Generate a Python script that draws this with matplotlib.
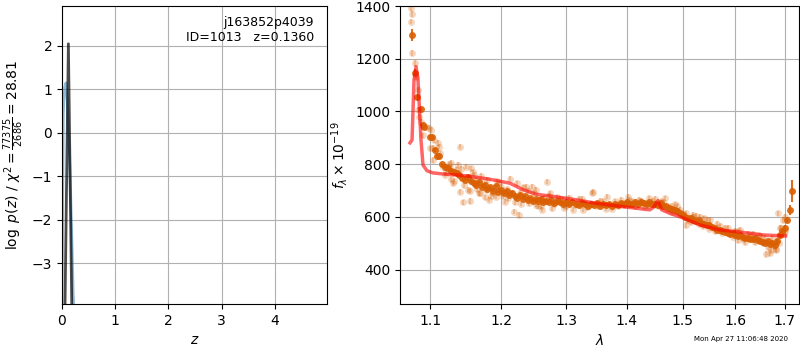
import numpy as np
import matplotlib
matplotlib.use('Agg')
import matplotlib.pyplot as plt

# ──────────────────────────────────────────────
# DATA
# ──────────────────────────────────────────────
# p(z) panel
z_fit   = [0.0, 0.025, 0.05, 0.075, 0.10, 0.12, 0.15, 0.18, 0.21, 0.24]
lnp_fit = [-4.2, 0.45, 1.05, 1.15, 0.75, 0.08, -0.85, -2.2, -3.7, -4.6]

z_peak   = [0.05, 0.12, 0.19]
lnp_peak = [-4.6, 2.05, -4.6]

obj_name = 'j163852p4039'
obj_id = 1013
z_best = 0.1360
chi2_num, chi2_den, chi2_red = 77375, 2686, 28.81

# binned spectrum
wave_bin = [1.0760, 1.0795, 1.0826, 1.0871, 1.0906, 1.0917, 1.0994, 1.1018, 1.1063, 1.1095,
            1.1121, 1.116, 1.120, 1.124, 1.128, 1.132, 1.136, 1.140, 1.144, 1.148,
            1.152, 1.156, 1.160, 1.164, 1.168, 1.172, 1.176, 1.180, 1.184, 1.188,
            1.192, 1.196, 1.200, 1.204, 1.208, 1.212, 1.216, 1.220, 1.224, 1.228,
            1.232, 1.236, 1.240, 1.244, 1.248, 1.252, 1.256, 1.260, 1.264, 1.268,
            1.272, 1.276, 1.280, 1.285, 1.290, 1.295, 1.300, 1.305, 1.310, 1.315,
            1.320, 1.325, 1.330, 1.335, 1.340, 1.345, 1.350, 1.355, 1.360, 1.365,
            1.370, 1.375, 1.380, 1.385, 1.390, 1.395, 1.400, 1.405, 1.410, 1.415,
            1.420, 1.425, 1.430, 1.435, 1.440, 1.445, 1.450, 1.455, 1.460, 1.465,
            1.470, 1.475, 1.480, 1.485, 1.490, 1.495, 1.500, 1.505, 1.510, 1.515,
            1.520, 1.525, 1.530, 1.535, 1.540, 1.545, 1.550, 1.555, 1.560, 1.565,
            1.570, 1.575, 1.580, 1.585, 1.590, 1.595, 1.600, 1.605, 1.610, 1.615,
            1.620, 1.625, 1.630, 1.635, 1.640, 1.645, 1.650, 1.655, 1.660, 1.665,
            1.670, 1.675, 1.680, 1.685, 1.690, 1.695, 1.700, 1.7054, 1.7111, 1.7159]
flux_bin = [1290, 1147, 1054, 1008, 949, 940, 905, 905, 854, 832,
            832, 800, 790, 785, 775, 770, 765, 760, 748, 740,
            752, 735, 728, 720, 732, 715, 722, 705, 712, 700,
            718, 695, 702, 690, 698, 685, 692, 680, 672, 685,
            670, 678, 665, 672, 660, 668, 662, 670, 655, 662,
            658, 665, 652, 660, 655, 650, 658, 648, 655, 650,
            645, 652, 648, 642, 650, 645, 652, 640, 648, 645,
            650, 642, 648, 645, 652, 648, 655, 650, 648, 655,
            650, 658, 652, 648, 655, 650, 648, 645, 652, 640,
            642, 635, 630, 625, 622, 615, 608, 600, 595, 598,
            590, 585, 588, 578, 575, 570, 568, 562, 558, 552,
            550, 545, 542, 540, 535, 538, 530, 528, 532, 525,
            520, 522, 518, 515, 520, 512, 510, 505, 500, 508,
            498, 502, 495, 510, 530, 545, 560, 589, 626, 699]
err_bin = [22, 14, 10, 8, 7, 7, 6, 6, 6, 5,
           5, 5, 5, 5, 5, 5, 5, 5, 5, 5,
           5, 5, 5, 5, 5, 5, 5, 5, 5, 5,
           5, 5, 5, 5, 5, 5, 5, 5, 5, 5,
           5, 5, 5, 5, 5, 5, 5, 5, 5, 5,
           5, 5, 5, 5, 5, 5, 5, 5, 5, 5,
           5, 5, 5, 5, 5, 5, 5, 5, 5, 5,
           5, 5, 5, 5, 5, 5, 5, 5, 5, 5,
           5, 5, 5, 5, 5, 5, 5, 5, 5, 5,
           5, 5, 5, 5, 5, 5, 5, 5, 5, 5,
           5, 5, 5, 5, 5, 5, 5, 5, 5, 5,
           5, 5, 5, 5, 5, 5, 5, 5, 5, 5,
           5, 5, 5, 5, 5, 5, 5, 5, 5, 5,
           6, 6, 6, 7, 8, 9, 10, 12, 20, 42]

# individual pixels (faint)
wave_pix = [1.0745, 1.0752, 1.0740, 1.0760, 1.0795, 1.0805, 1.0835, 1.0835, 1.0855, 1.0878,
            1.0943, 1.0985, 1.1005, 1.1050, 1.1105, 1.1115, 1.1030, 1.1408, 1.1131, 1.1040,
            1.1176, 1.1267, 1.1381, 1.1495, 1.1565, 1.1290, 1.1313, 1.1405, 1.1450, 1.1555,
            1.1518, 1.1680, 1.1775, 1.1823, 1.1919, 1.2065, 1.2190, 1.2265, 1.2164, 1.2367,
            1.2470, 1.2522, 1.1632, 1.1727, 1.1968, 1.2240, 1.2690, 1.2470, 1.2522, 1.2625,
            1.2782, 1.2942, 1.3106, 1.3272, 1.3414, 1.3500, 1.3672, 1.3848, 1.4027, 1.4210,
            1.4396, 1.4682, 1.4780, 1.3436, 1.5068, 1.5068, 1.5191, 1.5316, 1.5506, 1.5379,
            1.5697, 1.5890, 1.6087, 1.6053, 1.6286, 1.6420, 1.6622, 1.6553, 1.6724, 1.6828,
            1.6703, 1.6895, 1.6959, 1.6860, 1.7000, 1.2850, 1.3000, 1.3200, 1.3600, 1.3750,
            1.3900, 1.4100, 1.4300, 1.4500, 1.4600, 1.4850, 1.4950, 1.5150, 1.5250, 1.5450,
            1.5600, 1.5800, 1.6000, 1.6200, 1.6350, 1.6480, 1.6600, 1.6780, 1.6900, 1.1850,
            1.2000, 1.2100, 1.2300, 1.2400, 1.2600, 1.2750, 1.1550, 1.1600, 1.1700, 1.1350,
            1.1250, 1.1200, 1.1000, 1.0900,
            1.1220, 1.1280, 1.1330, 1.1430, 1.1470, 1.1530, 1.1590, 1.1650, 1.1710, 1.1760,
            1.1800, 1.1880, 1.1940, 1.2030, 1.2090, 1.2130, 1.2200, 1.2280, 1.2330, 1.2420,
            1.2500, 1.2560, 1.2650, 1.2720, 1.2800, 1.2900, 1.2970, 1.3050, 1.3150, 1.3250,
            1.3330, 1.3550, 1.3650, 1.3800, 1.3950, 1.4050, 1.4150, 1.4250, 1.4350, 1.4450,
            1.4550, 1.4650, 1.4720, 1.4800, 1.4900, 1.5000, 1.5100, 1.5200, 1.5300, 1.5400,
            1.5500, 1.5650, 1.5750, 1.5850, 1.5950, 1.6050, 1.6150, 1.6250, 1.6400, 1.6520,
            1.6650, 1.6750, 1.6830, 1.6880, 1.6930, 1.6980, 1.7010]
flux_pix = [1392, 1370, 1340, 1222, 1184, 1131, 1082, 1006, 979, 960,
            941, 938, 930, 892, 881, 866, 862, 866, 842, 816,
            791, 785, 797, 791, 785, 743, 728, 696, 655, 661,
            703, 690, 703, 665, 677, 658, 620, 608, 690, 715,
            665, 703, 741, 728, 728, 728, 734, 715, 646, 627,
            633, 665, 627, 627, 692, 640, 677, 640, 677, 665,
            671, 671, 640, 696, 614, 570, 608, 601, 589, 564,
            564, 539, 551, 513, 526, 513, 460, 501, 475, 475,
            463, 526, 589, 614, 545, 675, 640, 668, 660, 632,
            665, 660, 640, 668, 660, 648, 628, 580, 605, 590,
            545, 560, 548, 505, 535, 530, 520, 490, 560, 680,
            715, 672, 650, 700, 640, 690, 700, 760, 690, 780,
            800, 760, 860, 910,
            770, 805, 735, 782, 720, 745, 770, 705, 755, 675,
            740, 690, 735, 680, 705, 745, 655, 692, 712, 652,
            690, 640, 672, 680, 648, 670, 635, 672, 645, 668,
            636, 662, 632, 660, 645, 665, 640, 662, 645, 660,
            642, 655, 632, 620, 640, 612, 588, 600, 575, 595,
            555, 575, 540, 560, 525, 545, 518, 535, 505, 525,
            485, 520, 478, 500, 560, 540, 600]

# model
wave_mod = [1.0729, 1.0756, 1.0782, 1.0809, 1.0835, 1.0875, 1.0902, 1.0956, 1.1037, 1.1177,
            1.1503, 1.1836, 1.2130, 1.2330, 1.2535, 1.3005, 1.3492, 1.3940, 1.4405, 1.4480,
            1.4550, 1.4619, 1.4763, 1.5000, 1.5317, 1.5698, 1.6000, 1.6550, 1.7020]
flux_mod = [881, 892, 1120, 1170, 1120, 892, 797, 775, 767, 763,
            756, 743, 728, 703, 686, 671, 652, 639, 627, 638,
            662, 627, 614, 597, 570, 551, 545, 532, 528]

# ──────────────────────────────────────────────
# FIGURE
# ──────────────────────────────────────────────
fig = plt.figure(figsize=(8, 3.5), dpi=100)
ax1 = fig.add_axes([62 / 800, 46 / 350, 265 / 800, 298 / 350])
ax2 = fig.add_axes([400 / 800, 46 / 350, 399 / 800, 298 / 350])

# --- p(z) ---
ax1.plot(z_fit, lnp_fit, color='#1f77b4', alpha=0.5, linewidth=2)
ax1.plot(z_peak, lnp_peak, color='k', alpha=0.7, linewidth=2)
ax1.text(0.95, 0.965, f'{obj_name}\nID={obj_id}   z={z_best:.4f}',
         ha='right', va='top', fontsize=9, transform=ax1.transAxes)
ax1.set_xlim(0, 4.98)
ax1.set_ylim(-3.94, 2.92)
ax1.set_xticks([0, 1, 2, 3, 4])
ax1.set_yticks([-3, -2, -1, 0, 1, 2])
ax1.set_xlabel(r'$z$')
ax1.set_ylabel(r'$\log\ p(z)$' + ' / ' +
               rf'$\chi^2=\frac{{{chi2_num}}}{{{chi2_den}}}={chi2_red:.2f}$')
ax1.grid(True)

# --- spectrum ---
orange = '#d95f02'
ax2.errorbar(wave_pix, flux_pix, yerr=10, color=orange, alpha=0.25,
             marker='o', markersize=5, linestyle='none', markeredgewidth=0)
ax2.errorbar(wave_bin, flux_bin, yerr=err_bin, color=orange, alpha=0.9,
             marker='o', markersize=5, linestyle='none', zorder=3,
             markeredgewidth=0)
ax2.plot(wave_mod, flux_mod, color='r', alpha=0.6, linewidth=2.5, zorder=4)

ax2.set_xscale('log')
ax2.set_xlim(1.0598, 1.7305)
ax2.set_ylim(270, 1400)
xt = [1.1, 1.2, 1.3, 1.4, 1.5, 1.6, 1.7]
ax2.set_xticks(xt)
ax2.set_xticklabels([f'{v:.1f}' for v in xt])
ax2.xaxis.set_minor_locator(matplotlib.ticker.NullLocator())
ax2.set_yticks([400, 600, 800, 1000, 1200, 1400])
ax2.set_xlabel(r'$\lambda$')
ax2.set_ylabel(r'$f_\lambda \times 10^{-19}$')
ax2.grid(True)

fig.text(787.7 / 800, 1 - 339.3 / 350, 'Mon Apr 27 11:06:48 2020',
         ha='right', va='center', fontsize=5)

fig.savefig('out.png', dpi=100)
